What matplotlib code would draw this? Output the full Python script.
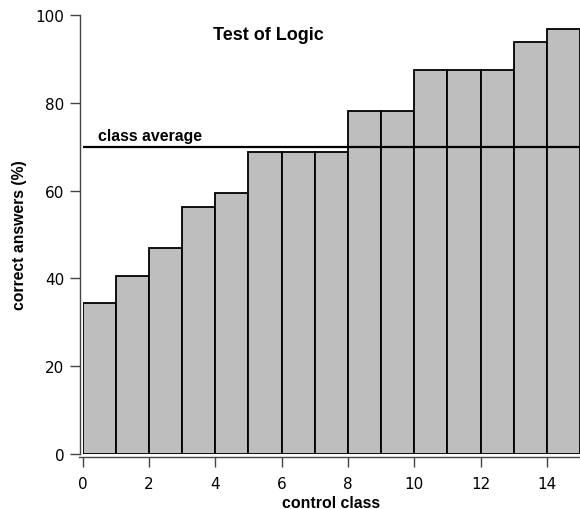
import matplotlib
matplotlib.use("Agg")
import matplotlib.pyplot as plt

classes = list(range(15))
scores = [34.4, 40.6, 46.9, 56.25, 59.4, 68.75, 68.75, 68.75, 78.1, 78.1,
          87.5, 87.5, 87.5, 93.75, 96.9]
class_average = 70
title = "Test of Logic"
xticks = [0, 2, 4, 6, 8, 10, 12, 14]
yticks = [0, 20, 40, 60, 80, 100]

fig = plt.figure(figsize=(5.8, 5.1), dpi=100)
ax = fig.add_axes([82.5/580, 55/510, 1 - 82.5/580, (455-16)/510])

ax.bar(classes, scores, width=1.0, align='edge', color='#bebebe',
       edgecolor='black', linewidth=1.3, zorder=2)
ax.plot([0, 15], [class_average, class_average], color='black', lw=1.6, zorder=3)
ax.text(0.47, class_average + 1.6, "class average", fontsize=11.4, fontweight='bold',
        family='Liberation Sans', ha='left', va='baseline')
ax.text(5.6, 95.5, title, fontsize=13, fontweight='bold', family='Liberation Sans',
        ha='center', va='center')

ax.set_xlim(0, 15)
ax.set_ylim(0, 100)
ax.set_xticks(xticks)
ax.set_yticks(yticks)
for s in ['top', 'right']:
    ax.spines[s].set_visible(False)
for s in ['left', 'bottom']:
    ax.spines[s].set_position(('outward', 2))
    ax.spines[s].set_color('#444444')
    ax.spines[s].set_linewidth(1.0)
ax.spines['bottom'].set_bounds(-0.1, 15)
ax.tick_params(direction='out', length=7, width=1.0, color='#444444',
               labelsize=11, pad=4)
ax.tick_params(axis='x', pad=7)
ax.set_xlabel("control class", fontsize=11.4, fontweight='bold',
              family='Liberation Sans', labelpad=3)
ax.set_ylabel("correct answers (%)", fontsize=11.3, fontweight='bold',
              family='Liberation Sans', labelpad=6)

fig.savefig("out.png", dpi=100)
